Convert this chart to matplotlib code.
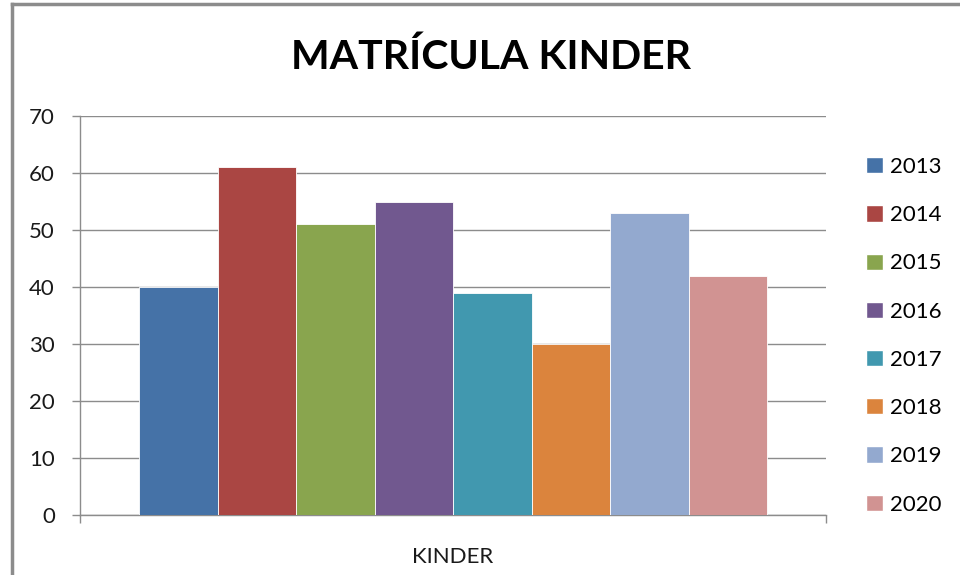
import matplotlib
matplotlib.use("Agg")
import matplotlib.pyplot as plt
from matplotlib.lines import Line2D
from matplotlib.patches import Patch

plt.rcParams['font.family'] = ['Lato', 'DejaVu Sans']

years = ['2013', '2014', '2015', '2016', '2017', '2018', '2019', '2020']
values = [40, 61, 51, 55, 39, 30, 53, 42]
colors = ['#4572A7', '#AA4643', '#89A54E', '#71588F', '#4198AF',
          '#DB843D', '#93A9CF', '#D19392']
category = 'KINDER'
title = 'MATRÍCULA KINDER'

fig = plt.figure(figsize=(9.6, 5.75), dpi=100)
ax = fig.add_axes([80/960, 1-515/575, (826-80)/960, (515-116)/575])

group_w = 628/746
bw = group_w/len(values)
start = -group_w/2 + bw/2
for i, (y, v, c) in enumerate(zip(years, values, colors)):
    ax.bar(start + i*bw, v, width=bw, color=c, edgecolor='white',
           linewidth=0.6, label=y, zorder=3)

ax.set_xlim(-0.5, 0.5)
ax.set_ylim(0, 70)
ax.set_yticks(range(0, 71, 10))
ax.yaxis.grid(True, color='#8c8c8c', linewidth=1.0, zorder=0)
ax.set_xticks([-0.5, 0.5])
ax.set_xticklabels(['', ''])
ax.tick_params(axis='x', length=6, color='#8c8c8c', width=1)
ax.tick_params(axis='y', length=6, color='#8c8c8c', width=1, labelsize=16,
               labelcolor='#1a1a1a', pad=12)
for s in ['top', 'right']:
    ax.spines[s].set_visible(False)
for s in ['left', 'bottom']:
    ax.spines[s].set_color('#8c8c8c')
    ax.spines[s].set_linewidth(1.0)
ax.text(0, -0.08, category, transform=ax.get_xaxis_transform(),
        ha='center', va='top', fontsize=16, color='#1a1a1a')

fig.text(491/960, 1-57/575, title, ha='center', va='center',
         fontsize=29.5, fontweight='bold', color='#000000')

handles = [Patch(facecolor=c, edgecolor='white') for c in colors]
fig.legend(handles, years, loc='upper left', bbox_to_anchor=(866/960, 1-157/575),
           frameon=False, fontsize=16, handlelength=0.75, handleheight=0.75,
           handletextpad=0.35, labelspacing=1.27, borderaxespad=0, borderpad=0)

fig.add_artist(Line2D([12/960, 12/960], [0, 1-4/575], color='#8c8c8c', lw=2.5))
fig.add_artist(Line2D([12/960, 1], [1-4/575, 1-4/575], color='#8c8c8c', lw=2.5))

fig.savefig('out.png', dpi=100, facecolor='white')
